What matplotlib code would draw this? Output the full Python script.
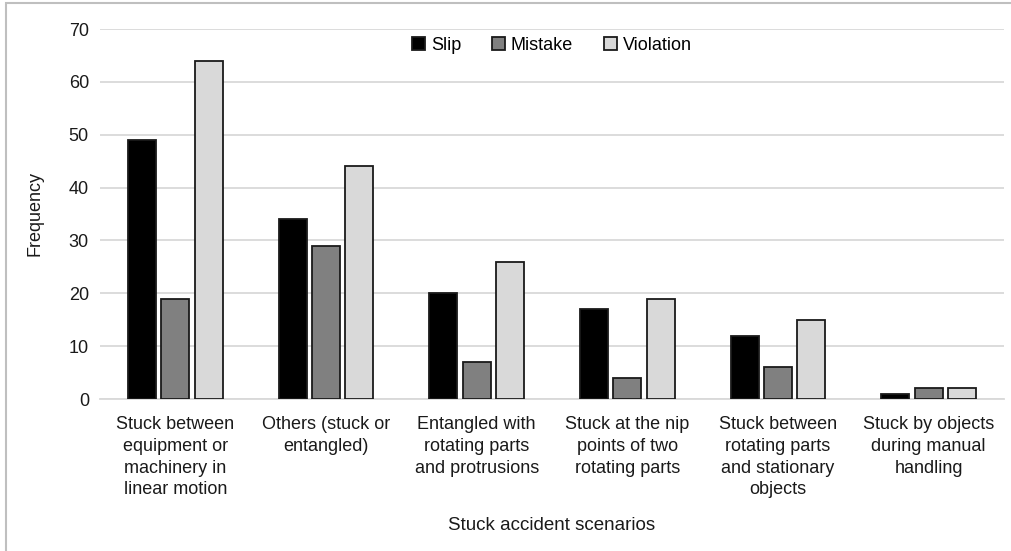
import matplotlib.pyplot as plt
import numpy as np
from matplotlib.patches import Rectangle

plt.rcParams['font.family'] = ['Liberation Sans', 'DejaVu Sans']

# ====== Data ======
scenarios = [
    "Stuck between\nequipment or\nmachinery in\nlinear motion",
    "Others (stuck or\nentangled)",
    "Entangled with\nrotating parts\nand protrusions",
    "Stuck at the nip\npoints of two\nrotating parts",
    "Stuck between\nrotating parts\nand stationary\nobjects",
    "Stuck by objects\nduring manual\nhandling",
]
slip = [49, 34, 20, 17, 12, 1]
mistake = [19, 29, 7, 4, 6, 2]
violation = [64, 44, 26, 19, 15, 2]

series = [("Slip", slip, "#000000"),
          ("Mistake", mistake, "#808080"),
          ("Violation", violation, "#d9d9d9")]

fig = plt.figure(figsize=(10.12, 5.51), dpi=100)
ax = fig.add_axes([100 / 1012, 1 - 399 / 551, 904 / 1012, 370 / 551])

x = np.arange(len(scenarios))
width = 0.186
step = 0.222
for i, (name, vals, col) in enumerate(series):
    ax.bar(x + (i - 1) * step, vals, width, color=col, edgecolor="#1a1a1a",
           linewidth=1.3, label=name, zorder=3)

ax.set_xlim(-0.5, len(scenarios) - 0.5)
ax.set_ylim(0, 70)
ax.set_yticks(range(0, 71, 10))
ax.set_xticks(x)
ax.set_xticklabels(scenarios, fontsize=13, linespacing=1.38)
ax.tick_params(axis="both", length=0, labelsize=13, colors="#1a1a1a")
ax.tick_params(axis="x", pad=12)
ax.tick_params(axis="y", pad=8)
ax.grid(axis="y", color="#d9d9d9", linewidth=1.3, zorder=0)
for s in ["top", "right", "left"]:
    ax.spines[s].set_visible(False)
ax.spines["bottom"].set_color("#d9d9d9")
ax.spines["bottom"].set_linewidth(1.3)

ax.set_ylabel("Frequency", fontsize=13, color="#1a1a1a")
ax.yaxis.set_label_coords(-0.063, 0.5)
ax.set_xlabel("Stuck accident scenarios", fontsize=13.5, color="#1a1a1a")
ax.xaxis.set_label_coords(0.5, -0.318)

ax.legend(loc="upper center", bbox_to_anchor=(0.5, 1.022), ncol=3, frameon=False,
          fontsize=13, handlelength=0.7, handleheight=0.7, columnspacing=1.7,
          handletextpad=0.35)

# light border around the figure
fig.patches.append(Rectangle((6 / 1012, -0.01), 1.1, 1 - 3 / 551 + 0.01,
                             transform=fig.transFigure, fill=False,
                             edgecolor="#bfbfbf", linewidth=1.5))

fig.savefig("out.png", dpi=100)
